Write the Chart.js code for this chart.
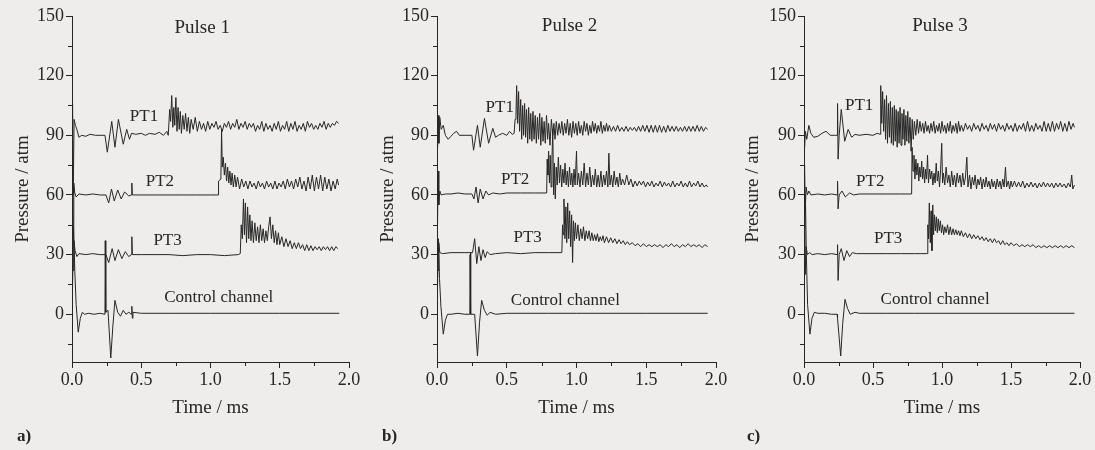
<!DOCTYPE html>
<html lang="en">
<head>
<meta charset="UTF-8"/>
<title>Pressure pulses</title>
<script src="https://cdn.jsdelivr.net/npm/chart.js@4.4.0/dist/chart.umd.min.js"></script>
<style>
  body{margin:0;background:#eeedeb;overflow:hidden}
  .panel{position:absolute;top:0;height:450px}
</style>
</head>
<body>
<div class="panel" style="left:0;width:365px"><canvas id="chartA"></canvas></div>
<div class="panel" style="left:365px;width:365px"><canvas id="chartB"></canvas></div>
<div class="panel" style="left:730px;width:365px"><canvas id="chartC"></canvas></div>
<script>
// values: [time in ms, pressure in atm]
const yTicks = [0, 30, 60, 90, 120, 150];
const yMinor = [-15, 15, 45, 75, 105, 135];
const xMinor = [0.25, 0.75, 1.25, 1.75];
const traceNames = ['PT1', 'PT2', 'PT3', 'Control channel'];
const pulseNames = ['Pulse 1', 'Pulse 2', 'Pulse 3'];
const panelLetters = ['a)', 'b)', 'c)'];

const pulse1PT1 = [[0,90],[0.004,106],[0.009,60],[0.015,98],[0.025,95],[0.035,93],[0.05,89],[0.07,90],[0.1,89.5],[0.13,90.5],[0.17,90],[0.21,90],[0.238,90],[0.255,81.5],[0.287,97],[0.31,84],[0.335,98],[0.37,85.5],[0.395,93],[0.415,88],[0.43,91],[0.46,90.5],[0.5,91],[0.53,90],[0.56,91],[0.6,90.5],[0.63,91.5],[0.66,90],[0.685,92],[0.695,90],[0.705,103],[0.712,97],[0.72,110],[0.728,94],[0.735,104],[0.742,95],[0.75,109],[0.758,92],[0.766,104],[0.774,93],[0.782,102],[0.79,91],[0.8,100],[0.81,93],[0.82,101],[0.83,92],[0.84,99],[0.85,91],[0.86,98],[0.875,93],[0.89,99],[0.905,92],[0.92,97],[0.935,93],[0.95,96],[0.965,92],[0.98,97],[0.995,93],[1.01,96],[1.025,94],[1.04,97],[1.055,93],[1.07,95],[1.085,92],[1.1,96],[1.115,94],[1.13,97],[1.145,93],[1.16,96],[1.175,94],[1.19,98],[1.205,93],[1.22,96],[1.235,94],[1.25,97],[1.265,93],[1.28,96],[1.295,94],[1.31,96],[1.325,92],[1.34,95],[1.355,93],[1.37,97],[1.385,92],[1.4,96],[1.415,93],[1.43,95],[1.445,92],[1.46,96],[1.475,93],[1.49,97],[1.505,92],[1.52,95],[1.535,93],[1.55,97],[1.565,92],[1.58,96],[1.595,93],[1.61,97],[1.625,92],[1.64,95],[1.655,93],[1.67,96],[1.685,92],[1.7,97],[1.715,94],[1.73,96],[1.745,93],[1.76,95],[1.775,93],[1.79,96],[1.805,94],[1.82,97],[1.835,93],[1.85,96],[1.865,94],[1.88,96],[1.895,95],[1.91,97],[1.925,96]];
const pulse1PT2 = [[0,60],[0.003,78],[0.008,44],[0.013,66],[0.02,61],[0.03,59],[0.05,60.5],[0.1,60],[0.15,60.5],[0.2,60],[0.245,60],[0.265,56],[0.285,63],[0.305,57],[0.33,62.5],[0.355,58],[0.38,61.5],[0.41,59.5],[0.428,60],[0.432,66],[0.436,60],[0.5,60],[0.6,60],[0.7,60],[0.8,60],[0.9,60],[1.0,60],[1.055,60],[1.058,67],[1.075,68],[1.08,93],[1.085,74],[1.092,79],[1.1,70],[1.108,76],[1.116,67],[1.124,74],[1.132,66],[1.14,72],[1.148,65],[1.156,71],[1.165,64],[1.175,70],[1.185,64],[1.195,69],[1.21,63],[1.225,68],[1.24,64],[1.255,67],[1.27,63],[1.285,67],[1.3,64],[1.315,66],[1.33,63],[1.345,67],[1.36,64],[1.375,66],[1.39,63],[1.405,67],[1.42,64],[1.435,66],[1.45,63],[1.465,67],[1.48,63],[1.495,66],[1.51,64],[1.525,67],[1.54,63],[1.555,68],[1.57,64],[1.585,67],[1.6,63],[1.615,68],[1.63,64],[1.645,69],[1.66,63],[1.675,67],[1.69,62],[1.705,69],[1.72,63],[1.735,70],[1.75,62],[1.765,69],[1.78,63],[1.795,70],[1.81,62],[1.825,69],[1.84,63],[1.855,68],[1.87,62],[1.885,67],[1.9,63],[1.915,68],[1.925,65]];
const pulse1PT3 = [[0,30],[0.003,40],[0.008,22],[0.014,37],[0.022,32],[0.035,29],[0.05,30.5],[0.1,30],[0.15,30.5],[0.2,30],[0.245,30],[0.265,26],[0.29,33],[0.31,27],[0.335,32.5],[0.36,28],[0.385,31.5],[0.41,29],[0.428,30],[0.432,39],[0.436,30],[0.5,30],[0.6,30],[0.7,30],[0.8,29.5],[0.9,30],[1.0,30],[1.1,29.5],[1.2,30],[1.215,30.5],[1.222,45],[1.23,38],[1.238,58],[1.245,40],[1.252,56],[1.26,36],[1.268,54],[1.276,38],[1.284,50],[1.292,37],[1.3,47],[1.31,36],[1.32,46],[1.33,37],[1.34,44],[1.35,36],[1.36,45],[1.37,37],[1.38,43],[1.39,36],[1.4,42],[1.41,37],[1.42,44],[1.43,49],[1.44,38],[1.45,45],[1.46,36],[1.47,42],[1.48,35],[1.49,41],[1.5,35],[1.515,39],[1.53,34],[1.545,38],[1.56,34],[1.575,37],[1.59,33],[1.605,36],[1.62,33],[1.635,36],[1.65,33],[1.665,35],[1.68,32],[1.695,35],[1.71,32],[1.725,34.5],[1.74,32],[1.755,34],[1.77,32.5],[1.785,34],[1.8,32],[1.815,34],[1.83,32.5],[1.845,34],[1.86,32],[1.875,34],[1.89,32],[1.905,34],[1.92,33]];
const pulse1Ctl = [[0,0],[0.005,0],[0.012,44],[0.02,22],[0.03,5],[0.045,-9],[0.06,-2],[0.075,1],[0.09,0],[0.12,0.5],[0.16,0],[0.2,0.5],[0.238,0],[0.24,37],[0.244,1],[0.26,2],[0.28,-22],[0.295,-6],[0.31,7],[0.33,1],[0.35,-1],[0.37,2],[0.39,0],[0.41,1],[0.428,0],[0.432,4],[0.436,-2],[0.44,1],[0.5,0.5],[0.7,0.5],[1.0,0.5],[1.5,0.5],[1.93,0.5]];

const pulse2PT1 = [[0,90],[0.004,84],[0.009,100],[0.014,86],[0.02,99],[0.03,93],[0.045,95],[0.06,90],[0.08,88],[0.1,89.5],[0.12,91],[0.14,92],[0.16,90],[0.2,90],[0.25,90],[0.262,82.5],[0.29,95],[0.31,84],[0.34,98.5],[0.37,86],[0.4,93.5],[0.42,89],[0.44,90],[0.47,91],[0.5,90],[0.52,92],[0.54,90.5],[0.553,91],[0.56,98],[0.566,100],[0.571,115],[0.578,96],[0.585,112],[0.592,92],[0.6,108],[0.607,88],[0.614,105],[0.621,90],[0.628,106],[0.635,89],[0.642,103],[0.65,86],[0.657,104],[0.665,88],[0.672,101],[0.68,87],[0.688,102],[0.696,88],[0.704,100],[0.712,86],[0.72,99],[0.728,88],[0.736,101],[0.744,85],[0.752,99],[0.76,87],[0.768,97],[0.776,86],[0.785,100],[0.793,88],[0.8,96],[0.81,85],[0.82,98],[0.83,90],[0.838,96],[0.846,88],[0.855,97],[0.865,90],[0.875,96],[0.885,91],[0.895,97],[0.905,90],[0.915,96],[0.925,91],[0.935,98],[0.945,90],[0.955,96],[0.965,89],[0.975,97],[0.985,91],[0.995,96],[1.005,90],[1.015,97],[1.025,91],[1.035,95],[1.045,90],[1.055,97],[1.065,92],[1.075,96],[1.085,90],[1.095,95],[1.105,91],[1.115,97],[1.125,92],[1.135,96],[1.145,91],[1.155,95],[1.165,92],[1.175,97],[1.185,91],[1.195,95],[1.205,92],[1.215,96],[1.225,92],[1.235,95],[1.25,92],[1.265,94.5],[1.28,92],[1.295,95],[1.31,92],[1.325,94],[1.34,92],[1.355,94.5],[1.37,92],[1.385,94],[1.4,92.5],[1.415,94],[1.43,92],[1.445,94.5],[1.46,92],[1.475,95],[1.49,92],[1.505,95],[1.52,91.5],[1.535,95],[1.55,91.5],[1.565,95],[1.58,91.5],[1.595,95],[1.61,91.5],[1.625,94.5],[1.64,91.5],[1.655,95],[1.67,92],[1.685,94.5],[1.7,92],[1.715,94.5],[1.73,92],[1.745,94],[1.76,92],[1.775,94.5],[1.79,92],[1.805,94.5],[1.82,92],[1.835,94.5],[1.85,92],[1.865,95],[1.88,92],[1.895,94.5],[1.91,92],[1.925,94],[1.94,93]];
const pulse2PT2 = [[0,60],[0.003,40],[0.008,72],[0.013,55],[0.02,62],[0.03,60],[0.06,60.5],[0.1,60.5],[0.15,61],[0.2,60.5],[0.25,60.5],[0.265,58],[0.28,64],[0.295,56],[0.31,63],[0.33,58],[0.35,62],[0.37,60],[0.4,61],[0.45,60.5],[0.5,61],[0.6,61],[0.7,61],[0.786,61],[0.79,78],[0.795,70],[0.8,82],[0.806,66],[0.812,80],[0.818,64],[0.824,78],[0.83,93],[0.836,60],[0.842,76],[0.848,58],[0.855,74],[0.862,65],[0.87,79],[0.878,66],[0.886,75],[0.894,64],[0.902,73],[0.91,66],[0.918,76],[0.926,65],[0.934,72],[0.942,64],[0.95,74],[0.958,65],[0.966,71],[0.974,64],[0.982,73],[0.99,65],[1.0,82],[1.006,65],[1.015,71],[1.025,64],[1.035,72],[1.045,65],[1.055,76],[1.065,64],[1.075,71],[1.085,65],[1.095,74],[1.105,64],[1.115,70],[1.125,65],[1.135,73],[1.145,64],[1.155,70],[1.165,64],[1.175,72],[1.185,64],[1.195,70],[1.205,65],[1.215,72],[1.225,64],[1.232,81],[1.24,65],[1.25,70],[1.26,64],[1.27,72],[1.28,65],[1.29,69],[1.3,64],[1.31,71],[1.32,65],[1.33,68],[1.345,65],[1.36,70],[1.375,65],[1.39,68],[1.405,64],[1.42,67],[1.435,64.5],[1.45,67],[1.465,65],[1.48,67],[1.495,64],[1.51,66.5],[1.525,64.5],[1.54,67],[1.555,64],[1.57,66],[1.585,64.5],[1.6,67],[1.615,64],[1.63,66.5],[1.645,64.5],[1.66,66],[1.675,64],[1.69,67],[1.705,64],[1.72,66],[1.735,64.5],[1.75,67],[1.765,64],[1.78,66],[1.795,64],[1.81,67],[1.825,64],[1.84,66],[1.855,64.5],[1.87,67],[1.885,64],[1.9,66],[1.915,64],[1.93,65],[1.94,64]];
const pulse2PT3 = [[0,30],[0.003,38],[0.008,22],[0.013,36],[0.02,31],[0.04,30.5],[0.1,31],[0.2,31],[0.255,31],[0.27,38],[0.285,25.5],[0.3,34],[0.315,27],[0.33,32.5],[0.345,28.5],[0.36,31.5],[0.38,30],[0.42,30.5],[0.5,31],[0.6,30.5],[0.7,31],[0.8,31],[0.895,31],[0.9,45],[0.905,40],[0.91,58],[0.917,38],[0.924,54],[0.93,36],[0.937,56],[0.944,38],[0.951,52],[0.958,34],[0.965,50],[0.972,26],[0.978,47],[0.985,37],[0.992,46],[1.0,38],[1.01,45],[1.02,37],[1.03,43],[1.04,38],[1.05,44],[1.06,37],[1.07,42],[1.08,38],[1.09,42],[1.1,37],[1.11,41],[1.12,37],[1.13,40],[1.14,37],[1.15,40.5],[1.16,36.5],[1.17,39],[1.18,37],[1.19,39.5],[1.2,36],[1.215,39],[1.23,36],[1.245,38.5],[1.26,36],[1.275,38],[1.29,35.5],[1.305,37.5],[1.32,35.5],[1.335,37],[1.35,35],[1.365,36.5],[1.38,35],[1.4,36],[1.42,34.5],[1.44,35.5],[1.46,34],[1.48,35.5],[1.5,34],[1.52,35],[1.54,34],[1.56,35],[1.58,34],[1.6,35],[1.62,33.5],[1.64,35],[1.66,34],[1.68,35.5],[1.7,34],[1.72,35],[1.74,33.5],[1.76,35],[1.78,34],[1.8,35.5],[1.82,34],[1.84,35],[1.86,34],[1.88,35],[1.9,33.5],[1.92,35],[1.94,34]];
const pulse2Ctl = [[0,0],[0.005,0],[0.01,38],[0.018,18],[0.028,4],[0.045,-10],[0.06,-3],[0.075,0],[0.1,0],[0.15,0.5],[0.2,0],[0.235,0],[0.237,30],[0.24,31],[0.243,0],[0.27,0],[0.29,-21],[0.305,-4],[0.32,7],[0.34,2],[0.36,-0.5],[0.38,1],[0.42,0],[0.5,0.5],[0.8,0.5],[1.0,0.5],[1.5,0.5],[1.94,0.5]];

const pulse3PT1 = [[0,90],[0.004,84],[0.01,92],[0.02,88],[0.035,95],[0.05,91],[0.07,89],[0.1,89.5],[0.13,91],[0.16,92],[0.19,90],[0.22,90],[0.24,90],[0.243,106],[0.247,78],[0.255,90],[0.27,103],[0.295,87],[0.32,93],[0.345,89],[0.37,90.5],[0.4,90],[0.45,90.5],[0.5,90],[0.53,91],[0.553,90.5],[0.556,115],[0.563,96],[0.57,112],[0.577,92],[0.584,108],[0.591,88],[0.598,110],[0.605,86],[0.612,106],[0.619,89],[0.626,107],[0.633,86],[0.64,104],[0.647,85],[0.654,105],[0.661,87],[0.668,103],[0.675,84],[0.682,102],[0.689,86],[0.696,104],[0.703,85],[0.71,101],[0.717,88],[0.724,103],[0.731,85],[0.738,100],[0.745,87],[0.752,102],[0.76,86],[0.768,99],[0.776,82],[0.784,98],[0.792,88],[0.8,97],[0.81,90],[0.82,98],[0.83,91],[0.84,97],[0.85,92],[0.86,96],[0.87,91],[0.88,97],[0.89,92],[0.9,95],[0.91,91],[0.92,96],[0.93,92],[0.94,97],[0.95,91],[0.96,95],[0.97,92],[0.98,96],[0.99,91],[1.0,97],[1.01,92],[1.02,95],[1.03,91],[1.04,96],[1.05,92],[1.06,97],[1.07,91],[1.08,95],[1.09,92],[1.1,96],[1.11,91],[1.12,97],[1.13,92],[1.14,95],[1.155,92],[1.17,96],[1.185,93],[1.2,95],[1.215,92],[1.23,96],[1.245,93],[1.26,95],[1.275,92],[1.29,96],[1.305,93],[1.32,95],[1.335,92],[1.35,96],[1.365,93],[1.38,95.5],[1.395,92],[1.41,96],[1.425,93],[1.44,95],[1.455,92],[1.47,96],[1.485,93],[1.5,95],[1.515,92],[1.53,96],[1.545,92],[1.56,95],[1.575,93],[1.59,96],[1.605,92],[1.62,97],[1.635,92],[1.65,95],[1.665,92],[1.68,96],[1.695,93],[1.71,95],[1.725,92],[1.74,97],[1.755,92],[1.77,96],[1.785,92],[1.8,97],[1.815,92],[1.83,96],[1.845,93],[1.86,97],[1.875,92],[1.89,96],[1.905,92],[1.92,97],[1.935,93],[1.95,96],[1.96,94]];
const pulse3PT2 = [[0,60],[0.004,75],[0.009,52],[0.015,64],[0.025,60],[0.035,62],[0.05,60],[0.1,60.5],[0.15,60],[0.2,60.5],[0.24,60],[0.243,67],[0.247,53],[0.255,60],[0.275,62],[0.3,59],[0.33,61],[0.36,60],[0.4,60.5],[0.5,60.5],[0.6,60.5],[0.7,60.5],[0.78,60.5],[0.783,84],[0.79,72],[0.797,80],[0.804,68],[0.811,78],[0.818,70],[0.825,76],[0.832,67],[0.839,74],[0.846,69],[0.853,77],[0.86,68],[0.867,74],[0.874,66],[0.881,73],[0.888,68],[0.895,80],[0.902,66],[0.91,73],[0.918,68],[0.926,72],[0.934,65],[0.942,71],[0.95,66],[0.958,76],[0.966,67],[0.974,72],[0.982,64],[0.99,73],[0.998,86],[1.004,66],[1.01,71],[1.02,65],[1.03,74],[1.04,66],[1.05,70],[1.06,64],[1.07,72],[1.08,65],[1.09,70],[1.1,64],[1.11,71],[1.12,66],[1.13,70],[1.14,64],[1.15,71],[1.16,65],[1.17,69],[1.18,79],[1.188,64],[1.2,70],[1.21,63],[1.22,69],[1.23,65],[1.24,70],[1.25,63],[1.26,68],[1.27,65],[1.28,69],[1.29,63],[1.3,68],[1.31,64],[1.32,69],[1.33,64],[1.34,67],[1.35,63],[1.36,68],[1.37,64],[1.38,67],[1.39,63],[1.4,68],[1.41,64],[1.42,67],[1.43,63],[1.44,68],[1.45,64],[1.46,74],[1.468,64],[1.48,67],[1.49,63],[1.5,67],[1.51,64],[1.525,67],[1.54,64],[1.555,66.5],[1.57,64],[1.585,67],[1.6,63.5],[1.615,66],[1.63,64],[1.645,66.5],[1.66,64],[1.675,66],[1.69,63.5],[1.705,66],[1.72,64],[1.735,66.5],[1.75,64],[1.765,66],[1.78,64],[1.795,66],[1.81,63.5],[1.825,66],[1.84,64],[1.855,66],[1.87,64],[1.885,65.5],[1.9,63.5],[1.915,66],[1.93,64],[1.94,70],[1.948,63],[1.96,65]];
const pulse3PT3 = [[0,30],[0.004,40],[0.009,20],[0.015,34],[0.025,30],[0.04,31],[0.06,30],[0.1,30.5],[0.15,30],[0.2,30.5],[0.24,30],[0.243,35],[0.247,17],[0.255,30],[0.27,33],[0.29,27],[0.31,32],[0.33,29],[0.35,31],[0.38,30.5],[0.45,30.5],[0.5,30.5],[0.6,30.5],[0.7,30.5],[0.8,30.5],[0.894,30.5],[0.897,45],[0.903,38],[0.908,56],[0.915,36],[0.921,52],[0.927,32],[0.933,55],[0.939,40],[0.945,50],[0.952,42],[0.959,49],[0.966,41],[0.973,48],[0.98,42],[0.988,47],[0.996,41],[1.004,45],[1.012,40],[1.02,44],[1.03,41],[1.04,45],[1.05,40],[1.06,44],[1.07,40],[1.08,43],[1.09,40],[1.1,42.5],[1.11,40],[1.12,42],[1.13,39.5],[1.14,42],[1.155,39],[1.17,41],[1.185,38.5],[1.2,40.5],[1.215,38],[1.23,40],[1.245,38],[1.26,39.5],[1.275,37.5],[1.29,39],[1.305,37],[1.32,38.5],[1.335,36.5],[1.35,38],[1.365,36],[1.38,38],[1.395,36],[1.41,37],[1.425,35],[1.44,37],[1.455,35],[1.47,36],[1.485,34.5],[1.5,36],[1.52,34.5],[1.54,35.5],[1.56,34],[1.58,35],[1.6,34],[1.62,35],[1.64,34],[1.66,35],[1.68,33.5],[1.7,34.5],[1.72,33.5],[1.74,34.5],[1.76,33.5],[1.78,34.5],[1.8,33.5],[1.82,34.5],[1.84,33.5],[1.86,34.5],[1.88,33.5],[1.9,34.5],[1.92,33.5],[1.94,34.5],[1.96,33.5]];
const pulse3Ctl = [[0,0],[0.004,0],[0.01,60],[0.017,30],[0.026,5],[0.043,-10],[0.058,-2],[0.075,1],[0.1,0.5],[0.15,0.5],[0.2,0],[0.24,0],[0.243,-2],[0.266,-21],[0.28,-5],[0.297,7.5],[0.315,3],[0.335,0],[0.37,1],[0.4,0.5],[0.6,0.5],[0.8,0.5],[1.0,0.5],[1.5,0.5],[1.96,0.5]];

const serif = '"Liberation Serif", "Times New Roman", serif';
const ink = '#262626';

// where the text labels sit, in data units [time, pressure]
const labelSpots = [
  [[0.52, 99.5], [0.635, 67], [0.69, 37], [1.06, 8.5], [0.94, 144]],
  [[0.45, 104], [0.56, 68], [0.65, 38.5], [0.92, 7], [0.95, 145]],
  [[0.40, 105], [0.48, 67], [0.61, 38], [0.95, 7.5], [0.985, 145]]
];

const textPlugin = {
  id: 'texts',
  afterDraw(chart, args, opts) {
    const ctx = chart.ctx, x = chart.scales.x, y = chart.scales.y;
    const spots = labelSpots[opts.panel];
    ctx.save();
    ctx.fillStyle = ink;
    ctx.textAlign = 'center';
    ctx.textBaseline = 'middle';
    ctx.font = '17px ' + serif;
    traceNames.forEach((name, i) => {
      ctx.fillText(name, x.getPixelForValue(spots[i][0]), y.getPixelForValue(spots[i][1]));
    });
    ctx.font = '19px ' + serif;
    ctx.fillText(pulseNames[opts.panel], x.getPixelForValue(spots[4][0]), y.getPixelForValue(spots[4][1]));
    ctx.font = 'bold 17px ' + serif;
    ctx.textAlign = 'left';
    ctx.fillText(panelLetters[opts.panel], 17, 437);
    // minor ticks
    ctx.strokeStyle = ink;
    ctx.lineWidth = 1;
    ctx.beginPath();
    xMinor.forEach(v => {
      const px = Math.round(x.getPixelForValue(v)) + 0.5;
      ctx.moveTo(px, y.bottom); ctx.lineTo(px, y.bottom + 4);
    });
    yMinor.forEach(v => {
      const py = Math.round(y.getPixelForValue(v)) + 0.5;
      ctx.moveTo(x.left, py); ctx.lineTo(x.left - 4, py);
    });
    ctx.stroke();
    ctx.restore();
  }
};

function makePanel(id, panel, traces, leftWidth, rightPad) {
  new Chart(document.getElementById(id), {
    type: 'line',
    data: {
      datasets: traces.map(t => ({
        data: t.map(p => ({x: p[0], y: p[1]})),
        borderColor: ink,
        borderWidth: 1,
        pointRadius: 0,
        tension: 0,
        fill: false
      }))
    },
    options: {
      responsive: true,
      maintainAspectRatio: false,
      animation: false,
      parsing: false,
      layout: {padding: {top: 16, right: rightPad, left: 0, bottom: 0}},
      plugins: {legend: {display: false}, tooltip: {enabled: false}, texts: {panel: panel}},
      scales: {
        x: {
          type: 'linear', min: 0, max: 2,
          ticks: {stepSize: 0.5, padding: 1, color: ink, font: {family: serif, size: 18},
                  callback: v => v.toFixed(1), maxRotation: 0},
          grid: {drawOnChartArea: false, tickLength: 6, color: ink},
          border: {color: ink, width: 1},
          title: {display: true, text: 'Time / ms', color: ink, font: {family: serif, size: 19},
                  padding: {top: 0, bottom: 31}},
          afterFit: s => { s.height = 88; }
        },
        y: {
          type: 'linear', min: -24, max: 150,
          afterBuildTicks: s => { s.ticks = yTicks.map(v => ({value: v})); },
          ticks: {padding: 2, color: ink, font: {family: serif, size: 18}},
          grid: {drawOnChartArea: false, tickLength: 6, color: ink},
          border: {color: ink, width: 1},
          title: {display: true, text: 'Pressure / atm', color: ink, font: {family: serif, size: 19},
                  padding: {top: 12, bottom: 0}},
          afterFit: s => { s.width = leftWidth; }
        }
      }
    },
    plugins: [textPlugin]
  });
}

makePanel('chartA', 0, [pulse1PT1, pulse1PT2, pulse1PT3, pulse1Ctl], 72, 16);
makePanel('chartB', 1, [pulse2PT1, pulse2PT2, pulse2PT3, pulse2Ctl], 72, 14);
makePanel('chartC', 2, [pulse3PT1, pulse3PT2, pulse3PT3, pulse3Ctl], 74, 15);
</script>
</body>
</html>
